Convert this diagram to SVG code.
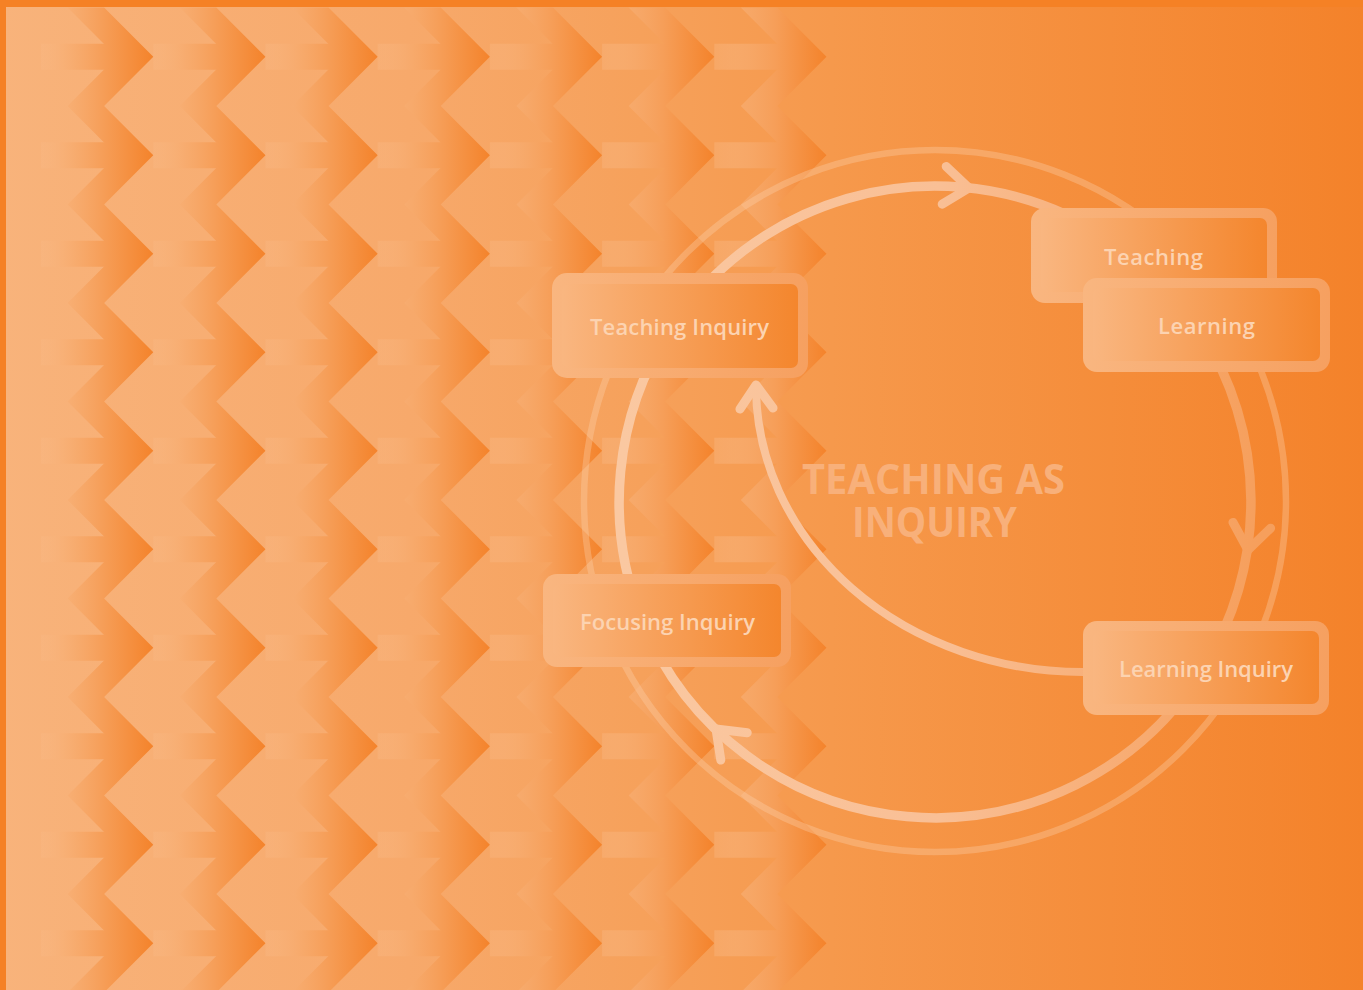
<svg xmlns="http://www.w3.org/2000/svg" width="1363" height="990" viewBox="0 0 1363 990">
  <defs>
    <style>
      .lbl { font-family: "Open Sans", "Noto Sans", "Liberation Sans", sans-serif; font-weight: 600; font-size: 22px; fill: #fcd3b1; text-anchor: middle; }
      .ttl { font-family: "Open Sans", "Noto Sans", "Liberation Sans", sans-serif; font-weight: 700; font-size: 41px; fill: #f8b07a; text-anchor: middle; }
      .arc { fill: none; stroke: url(#ringGrad); stroke-width: 9.5; stroke-linecap: round; }
      .inner { fill: none; stroke: url(#ringGrad); stroke-width: 8; stroke-linecap: round; }
      .head { fill: none; stroke: url(#ringGrad); stroke-width: 9; stroke-linecap: round; stroke-linejoin: round; }
      .outer { fill: none; stroke: #fcd2ac; stroke-opacity: 0.35; stroke-width: 6.5; }
      .edge { fill: #f58125; }
    </style>
    <linearGradient id="bgGrad" x1="0" y1="0" x2="1363" y2="0" gradientUnits="userSpaceOnUse">
      <stop offset="0" stop-color="#f8b37b"/>
      <stop offset="0.3" stop-color="#f7a96b"/>
      <stop offset="0.47" stop-color="#f6a15b"/>
      <stop offset="0.61" stop-color="#f6994c"/>
      <stop offset="1" stop-color="#f4822a"/>
    </linearGradient>
    <linearGradient id="tileGrad" x1="0" y1="0" x2="112.2" y2="0" gradientUnits="userSpaceOnUse">
      <stop offset="0" stop-color="#f9b985" stop-opacity="0.35"/>
      <stop offset="0.3" stop-color="#f7aa6c" stop-opacity="0.8"/>
      <stop offset="0.55" stop-color="#f69e58"/>
      <stop offset="1" stop-color="#f4832b"/>
    </linearGradient>
    <linearGradient id="ringGrad" x1="620" y1="0" x2="1260" y2="0" gradientUnits="userSpaceOnUse">
      <stop offset="0" stop-color="#fac8a1"/>
      <stop offset="0.5" stop-color="#f9bf95"/>
      <stop offset="1" stop-color="#f69f5c"/>
    </linearGradient>
    <linearGradient id="boxOuter" x1="0" y1="0" x2="1" y2="0">
      <stop offset="0" stop-color="#f9b680"/>
      <stop offset="1" stop-color="#f6a060"/>
    </linearGradient>
    <linearGradient id="boxInner" x1="0" y1="0" x2="1" y2="0">
      <stop offset="0" stop-color="#f9b680"/>
      <stop offset="1" stop-color="#f4862d"/>
    </linearGradient>
    <g id="col" fill="url(#tileGrad)">
      <path d="M0,43.7h80v26h-80z m0,98.5h80v26h-80z m0,98.5h80v26h-80z m0,98.5h80v26h-80z m0,98.5h80v26h-80z m0,98.5h80v26h-80z m0,98.5h80v26h-80z m0,98.5h80v26h-80z m0,98.5h80v26h-80z m0,98.5h80v26h-80z"/>
      <path d="M63,7.45 l49.2,49.25l-49.2,49.25 l49.2,49.25l-49.2,49.25 l49.2,49.25l-49.2,49.25 l49.2,49.25l-49.2,49.25 l49.2,49.25l-49.2,49.25 l49.2,49.25l-49.2,49.25 l49.2,49.25l-49.2,49.25 l49.2,49.25l-49.2,49.25 l49.2,49.25l-49.2,49.25 l49.2,49.25l-49.2,49.25 h-36.5 l49.2,-49.25l-49.2,-49.25 l49.2,-49.25l-49.2,-49.25 l49.2,-49.25l-49.2,-49.25 l49.2,-49.25l-49.2,-49.25 l49.2,-49.25l-49.2,-49.25 l49.2,-49.25l-49.2,-49.25 l49.2,-49.25l-49.2,-49.25 l49.2,-49.25l-49.2,-49.25 l49.2,-49.25l-49.2,-49.25 l49.2,-49.25l-49.2,-49.25 z"/>
    </g>
  </defs>

  <g id="background">
    <rect x="0" y="0" width="1363" height="990" fill="url(#bgGrad)"/>
    <g id="chevrons">
      <use href="#col" x="41.1"/>
      <use href="#col" x="153.3"/>
      <use href="#col" x="265.5"/>
      <use href="#col" x="377.7"/>
      <use href="#col" x="489.9"/>
      <use href="#col" x="602.1"/>
      <use href="#col" x="714.3"/>
    </g>
    <rect class="edge" x="0" y="0" width="1363" height="7"/>
    <rect class="edge" x="0" y="0" width="6" height="990"/>
    <circle class="outer" cx="935" cy="501" r="351"/>
  </g>

  <g id="connectors">
    <path class="arc" d="M670,330 A316,316 0 0 1 1067,215"/>
    <path class="arc" d="M1200,330 A316,316 0 0 1 1202.6,670"/>
    <path class="arc" d="M1202.6,670 A316,316 0 0 1 642,620"/>
    <path class="arc" d="M642,620 A316,316 0 0 1 670,330"/>
    <path class="inner" d="M1083,672 A327,286 0 0 1 756,386"/>
    <polyline class="head" points="946.2,166.4 969,188 942.2,204.2"/>
    <polyline class="head" points="1233,522.4 1248,550 1270.6,528.2"/>
    <polyline class="head" points="747.2,732.7 716,729 720.8,760"/>
    <polyline class="head" points="740,409 756,385 773,408"/>
  </g>

  <g id="node-teaching-inquiry">
    <rect x="552" y="273" width="256" height="105" rx="15" fill="url(#boxOuter)"/>
    <rect x="562" y="284" width="236" height="84" rx="7" fill="url(#boxInner)"/>
    <text class="lbl" x="679.5" y="335" textLength="179">Teaching Inquiry</text>
  </g>

  <g id="node-teaching">
    <rect x="1031" y="208" width="246" height="95" rx="14" fill="url(#boxOuter)"/>
    <rect x="1041" y="218" width="226" height="74" rx="7" fill="url(#boxInner)"/>
    <text class="lbl" x="1153.5" y="265" textLength="99">Teaching</text>
  </g>

  <g id="node-learning">
    <rect x="1083" y="278" width="247" height="94" rx="14" fill="url(#boxOuter)"/>
    <rect x="1093" y="288" width="227" height="73" rx="7" fill="url(#boxInner)"/>
    <text class="lbl" x="1206.5" y="334" textLength="97">Learning</text>
  </g>

  <g id="node-learning-inquiry">
    <rect x="1083" y="621" width="246" height="94" rx="14" fill="url(#boxOuter)"/>
    <rect x="1093" y="631" width="226" height="73" rx="7" fill="url(#boxInner)"/>
    <text class="lbl" x="1206" y="677" textLength="174">Learning Inquiry</text>
  </g>

  <g id="node-focusing-inquiry">
    <rect x="543" y="574" width="248" height="93" rx="14" fill="url(#boxOuter)"/>
    <rect x="553" y="584" width="228" height="73" rx="7" fill="url(#boxInner)"/>
    <text class="lbl" x="667.5" y="630" textLength="175">Focusing Inquiry</text>
  </g>

  <g id="title">
    <text class="ttl"><tspan x="933.5" y="494" textLength="263" lengthAdjust="spacingAndGlyphs">TEACHING AS</tspan><tspan x="934.5" y="537" textLength="165" lengthAdjust="spacingAndGlyphs">INQUIRY</tspan></text>
  </g>
</svg>
